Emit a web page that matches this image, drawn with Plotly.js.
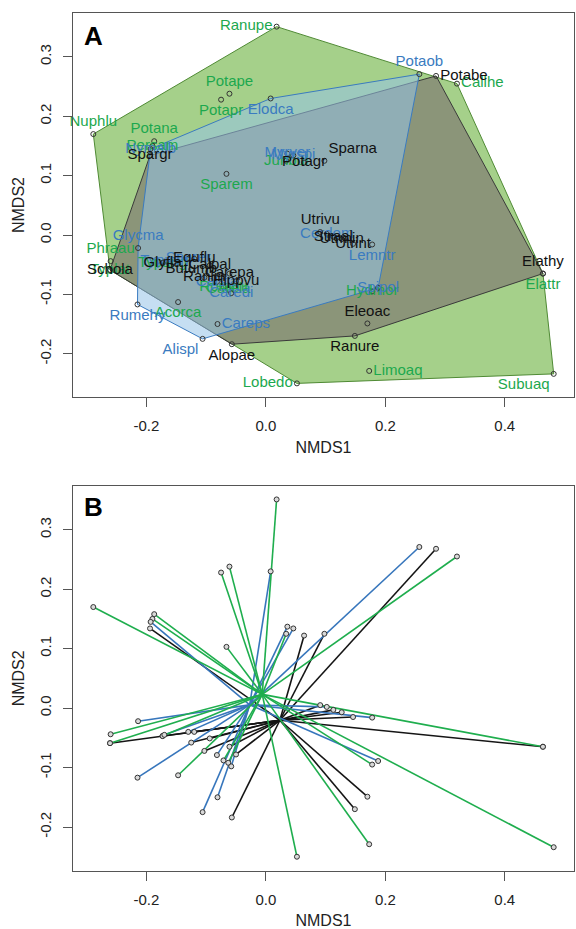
<!DOCTYPE html>
<html>
<head>
<meta charset="utf-8">
<script src="https://cdn.plot.ly/plotly-3.0.1.min.js"></script>
<style>html,body{margin:0;padding:0;background:#fff;}#chart{width:576px;height:929px;}</style>
</head>
<body>
<div id="chart"></div>
<script>
// ---- data ----
const species = [
  'Ranupe','Potape','Potapr','Nuphlu','Potana','Persam','Sparem','Junbul','Callhe','Elattr',
  'Subuaq','Limoaq','Lobedo','Hydmor','Phraau','Typlat','Acorca','Rorami','Carela','Typang',
  'Potabe','Sparna','Potagr','Spargr','Schola','Utrivu','Straal','Utrmin','Utrint','Elathy',
  'Eleoac','Ranure','Alopae','Equflu','Butumb','Calpal','Ranlin','Carepa','Hippvu','Glyfla',
  'Elodca','Potaob','Nymalb','Myrspi','Myrver','Glycma','Rumehy','Alispl','Careps','Spipol',
  'Lemntr','Cerdem','Sparer','Typmin','Calsta','Caredi'
];
const nmds1 = [
  0.018,-0.061,-0.075,-0.289,-0.187,-0.190,-0.066,0.034,0.320,0.464,
  0.482,0.173,0.052,0.178,-0.260,-0.261,-0.147,-0.071,-0.063,-0.173,
  0.285,0.098,0.064,-0.194,-0.261,0.091,0.113,0.127,0.146,0.464,
  0.170,0.149,-0.057,-0.120,-0.125,-0.094,-0.103,-0.061,-0.050,-0.173,
  0.008,0.257,-0.193,0.046,0.036,-0.214,-0.215,-0.106,-0.081,0.188,
  0.178,0.102,-0.130,-0.170,-0.082,-0.058
];
const nmds2 = [
  0.351,0.238,0.228,0.170,0.158,0.150,0.103,0.125,0.255,-0.065,
  -0.234,-0.229,-0.250,-0.095,-0.044,-0.059,-0.113,-0.088,-0.092,-0.047,
  0.268,0.125,0.122,0.134,-0.059,0.005,-0.003,-0.007,-0.015,-0.065,
  -0.149,-0.170,-0.184,-0.040,-0.058,-0.051,-0.072,-0.065,-0.078,-0.047,
  0.230,0.271,0.145,0.134,0.137,-0.022,-0.117,-0.175,-0.150,-0.089,
  -0.016,0.002,-0.040,-0.045,-0.079,-0.098
];
const group = [
  'g','g','g','g','g','g','g','g','g','g','g','g','g','g','g','g','g','g','g','g',
  'k','k','k','k','k','k','k','k','k','k','k','k','k','k','k','k','k','k','k','k',
  'b','b','b','b','b','b','b','b','b','b','b','b','b','b','b','b'
];
const xTickVals = [-0.2, 0.0, 0.2, 0.4];
const xTickText = ['-0.2','0.0','0.2','0.4'];
const yTickVals = [-0.2, -0.1, 0.0, 0.1, 0.2, 0.3];
const yTickText = ['-0.2','-0.1','0.0','0.1','0.2','0.3'];

// ---- presentation ----
const labelPos = [
  'ml','tc','bc','tc','tc','mc','bc','mc','mr','bc','bl','mr','ml','mc','tc','mc','bc','mc','mc','mc',
  'mr','tr','mc','mc','mc','tc','mc','mc','mc','tc','tc','bc','bc','mc','mc','mc','mc','mc','mc','mc',
  'bc','tc','mc','mc','mc','tc','bc','bl','mr','mc','bc','mc','mc','mc','mc','mc'
];
const posMap = {ml:'middle left',mr:'middle right',mc:'middle center',tc:'top center',bc:'bottom center',
  bl:'bottom left',tr:'top right',tl:'top left',br:'bottom right'};
const textCol = {g:'#1ca84e', k:'#111111', b:'#3a7bc0'};
const lineCol = {g:'#1fae4e', k:'#151515', b:'#3776bc'};
const hullFill = {g:'rgba(118,184,78,0.66)', k:'rgba(100,60,95,0.40)', b:'rgba(150,194,232,0.55)'};
const hullLine = {g:'#4f8a34', k:'#3a3a3a', b:'#3a7bc0'};
const FONT = 'Liberation Sans, Arial, sans-serif';

function idx(g){ const r=[]; group.forEach((v,i)=>{ if(v===g) r.push(i); }); return r; }

function convexHull(ids){
  const p = ids.map(i=>[nmds1[i],nmds2[i]]).sort((a,b)=>a[0]-b[0]||a[1]-b[1]);
  const cross=(o,a,b)=>(a[0]-o[0])*(b[1]-o[1])-(a[1]-o[1])*(b[0]-o[0]);
  const lower=[]; for(const q of p){ while(lower.length>=2&&cross(lower[lower.length-2],lower[lower.length-1],q)<=0) lower.pop(); lower.push(q); }
  const upper=[]; for(let i=p.length-1;i>=0;i--){ const q=p[i]; while(upper.length>=2&&cross(upper[upper.length-2],upper[upper.length-1],q)<=0) upper.pop(); upper.push(q); }
  upper.pop(); lower.pop();
  const h = lower.concat(upper); h.push(h[0]);
  return h;
}

const traces = [];
// Panel A hulls: green, black, blue
['g','k','b'].forEach(g=>{
  const h = convexHull(idx(g));
  traces.push({type:'scatter', mode:'lines', x:h.map(p=>p[0]), y:h.map(p=>p[1]),
    fill:'toself', fillcolor:hullFill[g], line:{color:hullLine[g], width:1},
    xaxis:'x', yaxis:'y', hoverinfo:'skip', showlegend:false});
});
// Panel A points + labels (green, blue, black on top)
['g','b','k'].forEach(g=>{
  const ids = idx(g);
  traces.push({type:'scatter', mode:'markers+text', x:ids.map(i=>nmds1[i]), y:ids.map(i=>nmds2[i]),
    text:ids.map(i=>species[i]), textposition:ids.map(i=>posMap[labelPos[i]]),
    textfont:{family:FONT, size:15, color:textCol[g]},
    marker:{symbol:'circle-open', size:5, color:'#333', line:{width:1}},
    xaxis:'x', yaxis:'y', hoverinfo:'text', showlegend:false, cliponaxis:false});
});
// Panel B spiders: lines from each point to its group centroid
['k','b','g'].forEach(g=>{
  const ids = idx(g);
  const cx = ids.reduce((s,i)=>s+nmds1[i],0)/ids.length;
  const cy = ids.reduce((s,i)=>s+nmds2[i],0)/ids.length;
  const xs=[], ys=[];
  ids.forEach(i=>{ xs.push(cx, nmds1[i], null); ys.push(cy, nmds2[i], null); });
  traces.push({type:'scatter', mode:'lines', x:xs, y:ys, line:{color:lineCol[g], width:1.6},
    xaxis:'x2', yaxis:'y2', hoverinfo:'skip', showlegend:false});
});
traces.push({type:'scatter', mode:'markers', x:nmds1, y:nmds2, text:species,
  marker:{symbol:'circle', size:5, color:'#d9d9d9', line:{color:'#333', width:1}},
  xaxis:'x2', yaxis:'y2', hoverinfo:'text', showlegend:false});

function xax(anchor){
  return {anchor:anchor, domain:[0,1], range:[-0.323,0.516], tickvals:xTickVals, ticktext:xTickText,
    ticks:'outside', ticklen:9, tickwidth:1, tickcolor:'#555', showline:true, mirror:true, linecolor:'#555', linewidth:1,
    showgrid:false, zeroline:false, automargin:false, ticklabelstandoff:6,
    tickfont:{family:FONT, size:15, color:'#222'},
    title:{text:'NMDS1', font:{family:FONT, size:16, color:'#222'}, standoff:8}};
}
function yax(anchor, dom, lo){
  return {anchor:anchor, domain:dom, range:[lo,0.374], tickvals:yTickVals, ticktext:yTickText, tickangle:-90,
    ticks:'outside', ticklen:9, tickwidth:1, tickcolor:'#555', showline:true, mirror:true, linecolor:'#555', linewidth:1,
    showgrid:false, zeroline:false, automargin:false, ticklabelstandoff:6,
    tickfont:{family:FONT, size:15, color:'#222'},
    title:{text:'NMDS2', font:{family:FONT, size:16, color:'#222'}, standoff:8}};
}

const layout = {
  width:576, height:929, paper_bgcolor:'#fff', plot_bgcolor:'#fff',
  margin:{l:73, r:2, t:13, b:58},
  font:{family:FONT},
  xaxis: xax('y'), yaxis: yax('x',[0.5524,1],-0.273),
  xaxis2: xax('y2'), yaxis2: yax('x2',[0,0.449],-0.274),
  annotations:[
    {text:'<b>A</b>', xref:'x domain', yref:'y domain', x:0.04, y:0.941, showarrow:false,
     font:{family:FONT, size:26, color:'#000'}, xanchor:'center', yanchor:'middle'},
    {text:'<b>B</b>', xref:'x2 domain', yref:'y2 domain', x:0.04, y:0.945, showarrow:false,
     font:{family:FONT, size:26, color:'#000'}, xanchor:'center', yanchor:'middle'}
  ]
};
Plotly.newPlot('chart', traces, layout, {staticPlot:true, displayModeBar:false});
</script>
</body>
</html>
